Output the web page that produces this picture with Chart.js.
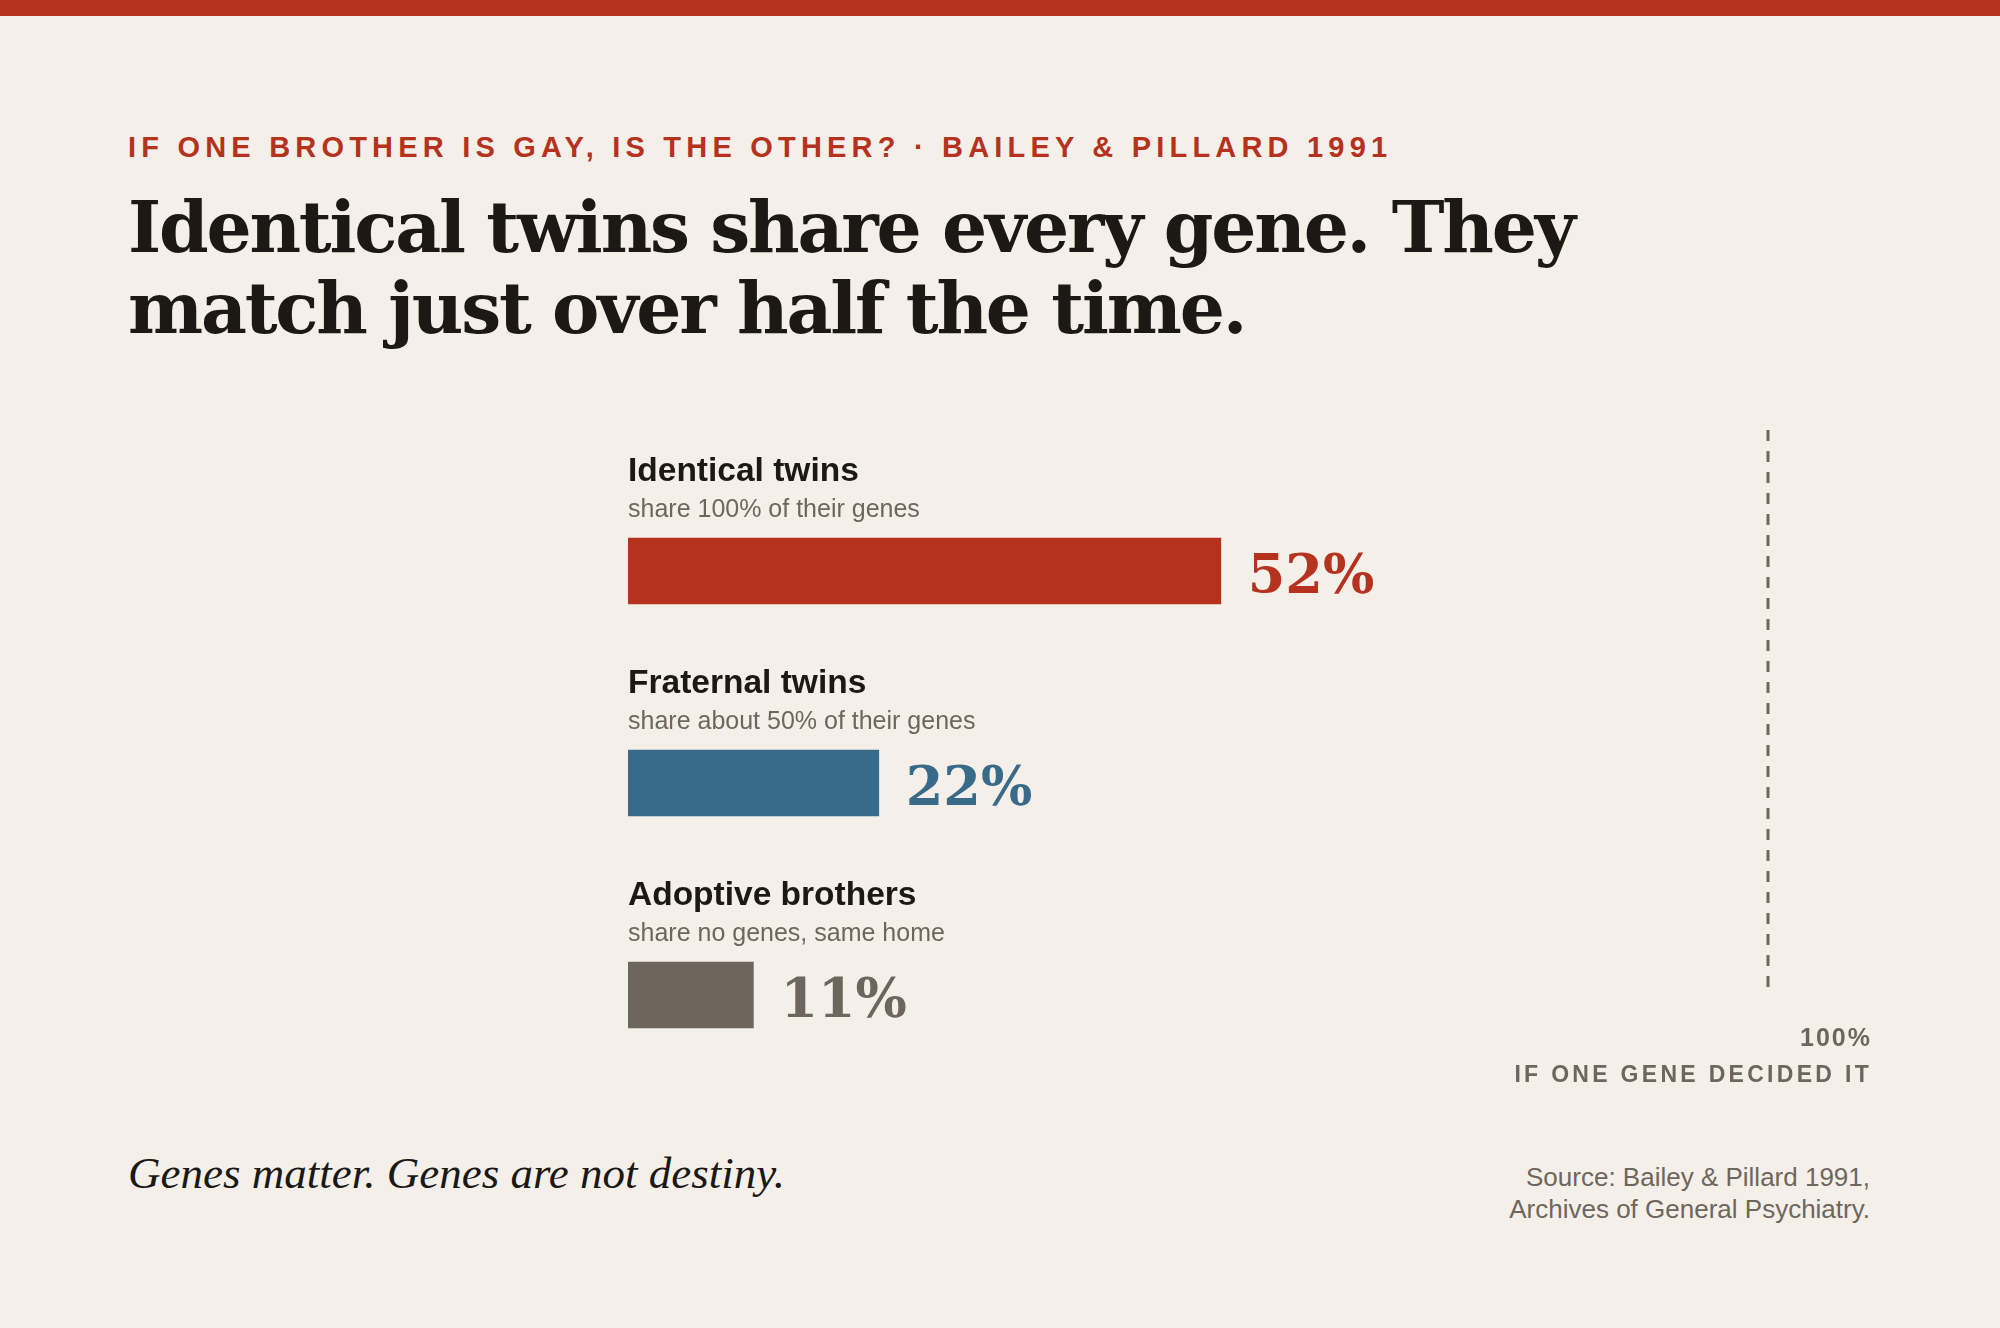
<!DOCTYPE html>
<html>
<head>
<meta charset="utf-8">
<script src="https://cdn.jsdelivr.net/npm/chart.js@4/dist/chart.umd.min.js"></script>
<style>
  html, body { margin: 0; padding: 0; }
  body { width: 2000px; height: 1328px; background: #f4f0e9; position: relative; overflow: hidden; }
  .topbar { position: absolute; left: 0; top: 0; width: 2000px; height: 16px; background: #b5321f; }
  .eyebrow { position: absolute; left: 128px; top: 133px; font: bold 29px/29px "Liberation Sans", Arial, sans-serif; letter-spacing: 5.2px; color: #b5321f; white-space: nowrap; }
  .title { position: absolute; left: 128px; top: 187px; font: bold 71px/81px "DejaVu Serif", serif; color: #1b1815; white-space: nowrap; letter-spacing: -2.2px; }
  .footnote { position: absolute; left: 128px; top: 1151px; font: italic 45px/45px "Liberation Serif", serif; color: #1b1815; white-space: nowrap; }
  .source { position: absolute; right: 130px; top: 1161px; font: 26px/32px "Liberation Sans", Arial, sans-serif; color: #6e665c; text-align: right; white-space: nowrap; }
  .chart-box { position: absolute; left: 0; top: 400px; width: 2000px; height: 720px; }
</style>
</head>
<body>
<div class="topbar"></div>
<div class="eyebrow">IF ONE BROTHER IS GAY, IS THE OTHER? · BAILEY &amp; PILLARD 1991</div>
<div class="title">Identical twins share every gene. They<br>match just over half the time.</div>
<div class="chart-box"><canvas id="bars"></canvas></div>
<div class="footnote">Genes matter. Genes are not destiny.</div>
<div class="source">Source: Bailey &amp; Pillard 1991,<br>Archives of General Psychiatry.</div>
<script>
// Datos del grafico
const grupos = ['Identical twins', 'Fraternal twins', 'Adoptive brothers'];
const subtitulos = ['share 100% of their genes', 'share about 50% of their genes', 'share no genes, same home'];
const concordancia = [52, 22, 11];
const colores = ['#b5321f', '#3a6a8a', '#6e665c'];
const referencia = 100;
const referenciaTexto = ['100%', 'IF ONE GENE DECIDED IT'];

// Etiquetas encima de cada barra y el porcentaje al final
const etiquetasPlugin = {
    id: 'etiquetas',
    afterDatasetsDraw(chart) {
        const ctx = chart.ctx;
        const meta = chart.getDatasetMeta(0);
        const x0 = chart.scales.x.getPixelForValue(0);
        ctx.save();
        meta.data.forEach((bar, i) => {
            const top = bar.y - bar.height / 2;
            ctx.textAlign = 'left';
            ctx.textBaseline = 'alphabetic';
            ctx.fillStyle = '#1b1815';
            ctx.font = 'bold 33.5px "Liberation Sans", Arial, sans-serif';
            ctx.fillText(grupos[i], x0, top - 57);
            ctx.fillStyle = '#6e665c';
            ctx.font = '25px "Liberation Sans", Arial, sans-serif';
            ctx.fillText(subtitulos[i], x0, top - 21);
            ctx.fillStyle = colores[i];
            ctx.font = 'bold 54px "DejaVu Serif", serif';
            ctx.textBaseline = 'middle';
            ctx.fillText(concordancia[i] + '%', bar.x + 27, bar.y + 8);
        });
        ctx.restore();
    }
};

// Linea punteada del 100%
const referenciaPlugin = {
    id: 'referencia',
    afterDraw(chart) {
        const ctx = chart.ctx;
        const x = chart.scales.x.getPixelForValue(referencia);
        const yTop = chart.chartArea.top - 35;
        const yBottom = chart.scales.y.getPixelForValue(grupos.length - 1) - 5;
        ctx.save();
        ctx.strokeStyle = '#6e665c';
        ctx.lineWidth = 3;
        ctx.setLineDash([11, 10]);
        ctx.beginPath();
        ctx.moveTo(x, yTop);
        ctx.lineTo(x, yBottom);
        ctx.stroke();
        ctx.setLineDash([]);
        ctx.fillStyle = '#6e665c';
        ctx.textAlign = 'right';
        ctx.textBaseline = 'alphabetic';
        ctx.font = 'bold 25px "Liberation Sans", Arial, sans-serif';
        ctx.letterSpacing = '2px';
        ctx.fillText(referenciaTexto[0], x + 104, yBottom + 56);
        ctx.font = 'bold 23px "Liberation Sans", Arial, sans-serif';
        ctx.letterSpacing = '3.3px';
        ctx.fillText(referenciaTexto[1], x + 104, yBottom + 92);
        ctx.restore();
    }
};

const barConfig = {
    type: 'bar',
    data: {
        labels: grupos,
        datasets: [{
            data: concordancia,
            backgroundColor: colores,
            barThickness: 66,
            borderWidth: 0,
        }],
    },
    options: {
        indexAxis: 'y',
        responsive: true,
        maintainAspectRatio: false,
        animation: false,
        layout: {
            padding: { left: 628, right: 232, top: 65, bottom: 19 },
        },
        scales: {
            x: { display: false, min: 0, max: 100 },
            y: { display: false },
        },
        plugins: {
            legend: { display: false },
            tooltip: { enabled: false },
        },
    },
    plugins: [etiquetasPlugin, referenciaPlugin],
};

const barCtx = document.getElementById('bars');
window.myBars = new Chart(barCtx, barConfig);
</script>
</body>
</html>
